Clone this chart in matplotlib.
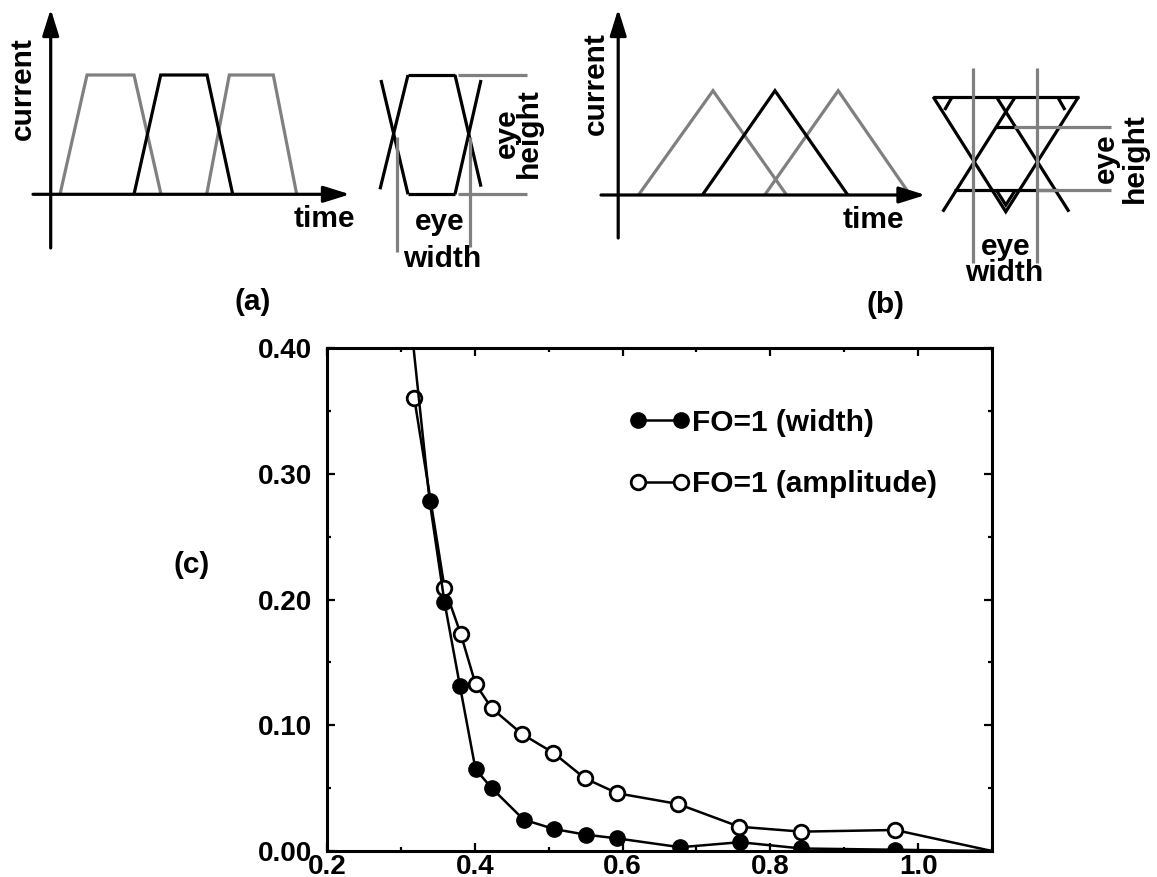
import matplotlib
matplotlib.use("Agg")
import matplotlib.pyplot as plt
from matplotlib.lines import Line2D
from matplotlib.ticker import MultipleLocator, FormatStrFormatter

plt.rcParams['font.family'] = ['Liberation Sans', 'DejaVu Sans']
plt.rcParams['font.weight'] = 'bold'

# ---- panel (c): measured curves ----
width_x = [0.310, 0.339, 0.359, 0.380, 0.401, 0.423, 0.466, 0.507, 0.550,
           0.593, 0.678, 0.759, 0.842, 0.969, 1.100]
width_y = [0.440, 0.278, 0.198, 0.131, 0.065, 0.050, 0.025, 0.0175, 0.013,
           0.010, 0.003, 0.007, 0.002, 0.001, 0.000]
amp_x = [0.318, 0.359, 0.381, 0.401, 0.423, 0.464, 0.506, 0.549, 0.593,
         0.675, 0.758, 0.842, 0.969, 1.100]
amp_y = [0.3605, 0.2094, 0.1726, 0.1328, 0.1135, 0.0930, 0.0782, 0.0578,
         0.0459, 0.0374, 0.0193, 0.0154, 0.0167, 0.000]
legend_labels = ["FO=1 (width)", "FO=1 (amplitude)"]
x_limits = (0.2, 1.1)
y_limits = (0.0, 0.40)

# ---- panels (a) and (b): schematic waveforms (canvas pixel units) ----
axis_a_v = ([50.7, 50.7], [248, 9])
axis_a_h = ([33, 350], [194.3, 194.3])
pulses_a_gray = [([60, 87, 134, 161], [194.3, 75, 75, 194.3]),
                 ([206.7, 229.3, 273.3, 296.7], [194.3, 75, 75, 194.3])]
pulses_a_black = [([134, 160.7, 207, 232.7], [194.3, 75, 75, 194.3])]
eye_a_black = [([408, 455], [75, 75]), ([408, 455], [194.3, 194.3]),
               ([380, 408], [189.3, 75]), ([381, 408], [80, 194.3]),
               ([455, 481], [75, 186.7]), ([455, 481], [194.3, 80])]
eye_a_gray = [([396.7, 396.7], [136.7, 251.7]), ([470, 470], [136.7, 247]),
              ([458, 527], [75, 75]), ([458, 527], [194.3, 194.3])]

axis_b_v = ([618.2, 618.2], [238, 9])
axis_b_h = ([601, 925.5], [195, 195])
pulses_b_gray = [([638.5, 713, 786.6], [195, 90.7, 195]),
                 ([764.7, 838.2, 910.2], [195, 90.7, 195])]
pulses_b_black = [([702.4, 775, 847.8], [195, 90.7, 195])]
eye_b_black = [([933.1, 1078.6], [96.7, 96.7]),
               ([933.1, 1005.8, 1078.6], [96.7, 211.7, 96.7]),
               ([942.7, 1015.4], [211.7, 96.7]),
               ([996.3, 1069.0], [96.7, 211.7]),
               ([944.6, 952.3], [110.0, 96.7]),
               ([1057.5, 1065.0], [96.7, 110.0]),
               ([954.2, 1057.5], [190, 190]),
               ([996.3, 1015.4], [126.7, 126.7]),
               ([996.3, 1005.8, 1015.4], [190, 205, 190])]
eye_b_gray = [([973.3, 973.3], [68.3, 263.3]), ([1036.5, 1036.5], [68.3, 263.3]),
              ([1013.5, 1111.1], [126.7, 126.7]), ([1036.5, 1111.1], [190, 190])]

W, H = 1157, 877
fig = plt.figure(figsize=(W / 100, H / 100), dpi=100)

# canvas for the schematics
cv = fig.add_axes([0, 0, 1, 1], zorder=0)
cv.set_xlim(0, W)
cv.set_ylim(H, 0)
cv.axis('off')

GRAY = '#808080'
LW = 2.3

def arrow(ax, xs, ys):
    ax.annotate('', xy=(xs[1], ys[1]), xytext=(xs[0], ys[0]),
                arrowprops=dict(arrowstyle='-|>,head_length=0.8,head_width=0.25',
                                mutation_scale=20, lw=LW, color='k',
                                shrinkA=0, shrinkB=0))

for v, h in [(axis_a_v, axis_a_h), (axis_b_v, axis_b_h)]:
    arrow(cv, *v)
    arrow(cv, *h)

for segs, col in [(pulses_a_gray, GRAY), (pulses_a_black, 'k'),
                  (pulses_b_gray, GRAY), (pulses_b_black, 'k'),
                  (eye_a_black, 'k'), (eye_a_gray, GRAY),
                  (eye_b_black, 'k'), (eye_b_gray, GRAY)]:
    for xs, ys in segs:
        cv.plot(xs, ys, color=col, lw=LW, solid_joinstyle='miter',
                solid_capstyle='butt')

TS = 21.5
txt = dict(fontsize=TS, fontweight='bold', ha='center', va='center')
cv.text(23, 89, 'current', rotation=90, **txt)
cv.text(324, 219, 'time', **txt)
cv.text(440, 222, 'eye', **txt)
cv.text(442, 259, 'width', **txt)
cv.text(518, 133, 'eye\nheight', rotation=90, linespacing=0.72,
        multialignment='center', **txt)
cv.text(253, 302, '(a)', **txt)

cv.text(596, 84, 'current', rotation=90, **txt)
cv.text(873, 220, 'time', **txt)
cv.text(1006, 247, 'eye', **txt)
cv.text(1004, 273, 'width', **txt)
cv.text(1120, 158, 'eye\nheight', rotation=90, linespacing=1.05,
        multialignment='center', **txt)
cv.text(885, 305, '(b)', **txt)

cv.text(192, 565, '(c)', **txt)

# ---- panel (c) ----
ax = fig.add_axes([327 / W, 1 - 851 / H, 665 / W, 503 / H], zorder=1)
ax.patch.set_alpha(0)
ax.plot(amp_x, amp_y, color='k', lw=1.8, marker='o', ms=10.5, mfc='white',
        mec='k', mew=2.0, markevery=list(range(len(amp_x) - 1)), zorder=3)
ax.plot(width_x, width_y, color='k', lw=1.8, marker='o', ms=11, mfc='k',
        mec='k', markevery=list(range(len(width_x) - 1)), zorder=4)
ax.set_xlim(*x_limits)
ax.set_ylim(*y_limits)

ax.xaxis.set_major_locator(MultipleLocator(0.2))
ax.xaxis.set_minor_locator(MultipleLocator(0.1))
ax.yaxis.set_major_locator(MultipleLocator(0.1))
ax.yaxis.set_minor_locator(MultipleLocator(0.05))
ax.xaxis.set_major_formatter(FormatStrFormatter('%.1f'))
ax.yaxis.set_major_formatter(FormatStrFormatter('%.2f'))
ax.tick_params(which='both', direction='in', top=True, right=True, width=1.6)
ax.tick_params(which='major', length=6)
ax.tick_params(which='minor', length=3)
ax.tick_params(axis='x', which='major', pad=2, labelsize=20)
ax.tick_params(axis='y', which='major', pad=11, labelsize=20)
for lab in ax.get_xticklabels() + ax.get_yticklabels():
    lab.set_fontweight('bold')
for s in ax.spines.values():
    s.set_linewidth(2.2)

handles = [Line2D([], [], color='k', lw=1.8, marker='o', ms=11, mfc='k', mec='k'),
           Line2D([], [], color='k', lw=1.8, marker='o', ms=10.5, mfc='white',
                  mec='k', mew=2.0)]
ax.legend(handles, legend_labels, loc='upper left', bbox_to_anchor=(0.454, 0.879),
          frameon=False, numpoints=2, handlelength=2.04, handletextpad=0.07,
          labelspacing=1.12, borderpad=0, borderaxespad=0,
          prop=dict(size=21.5, weight='bold'))

fig.savefig('out.png', dpi=100)
